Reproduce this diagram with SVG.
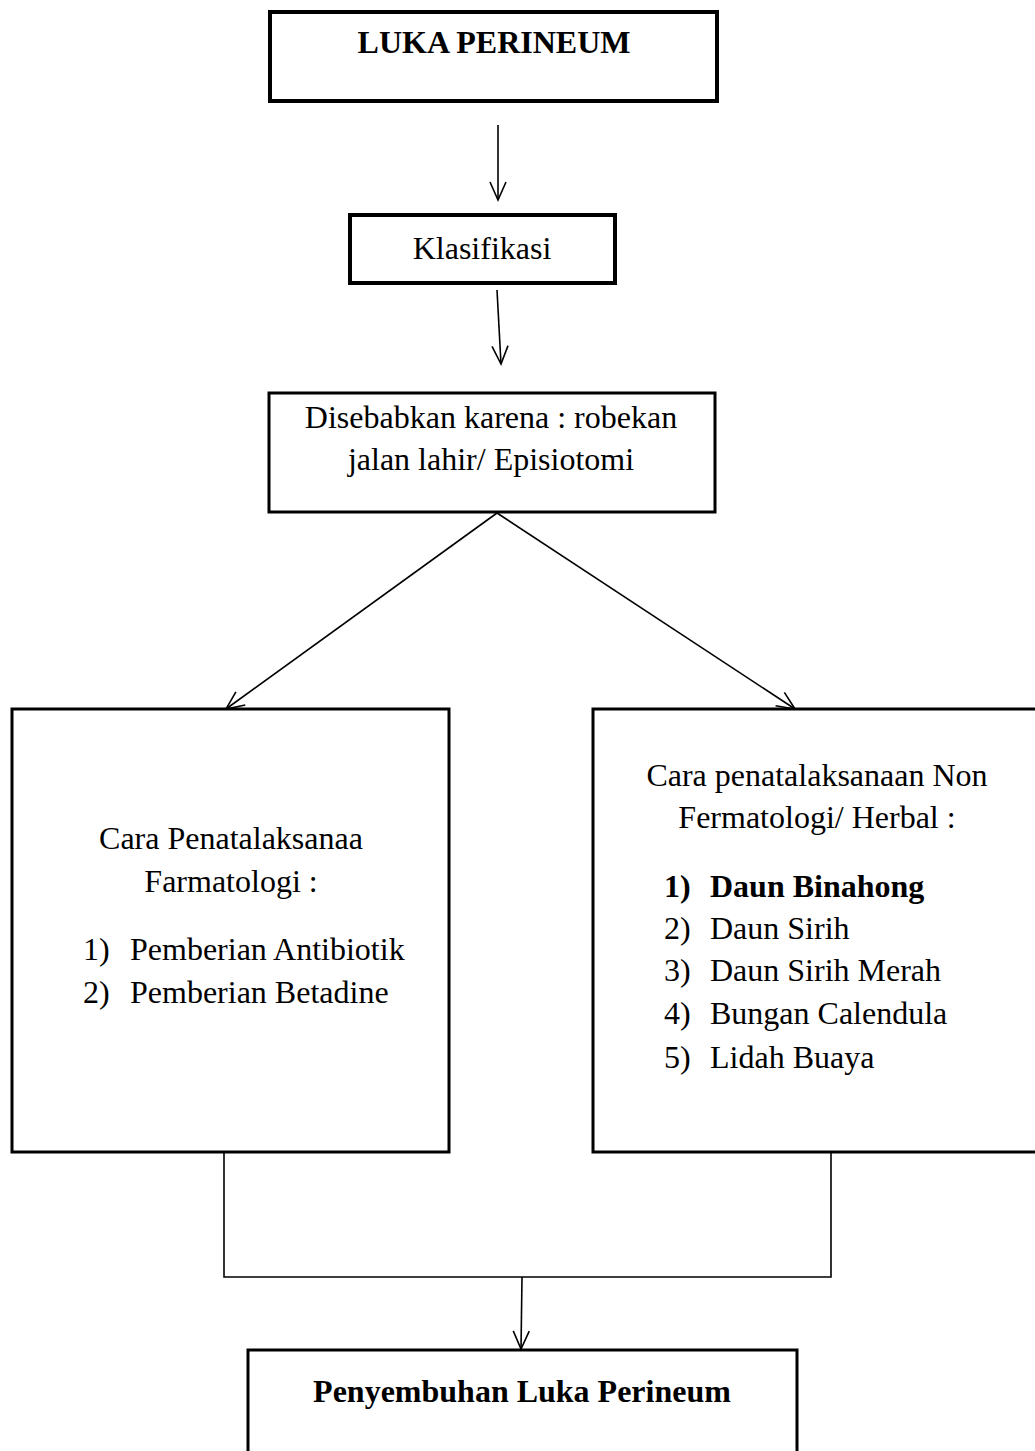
<svg xmlns="http://www.w3.org/2000/svg" width="1035" height="1451" viewBox="0 0 1035 1451">
  <style>
    .box { fill: #ffffff; stroke: #000000; }
    .thick { stroke-width: 4; }
    .mid { stroke-width: 3; }
    .t { font-family: "Liberation Serif", "Times New Roman", serif; font-size: 32px; fill: #000000; }
    .b { font-weight: bold; }
    .c { text-anchor: middle; }
    .conn { fill: none; stroke: #000000; stroke-width: 1.6; }
  </style>
  <defs>
    <marker id="arr" markerUnits="userSpaceOnUse" markerWidth="22" markerHeight="20" viewBox="0 0 22 20" refX="19" refY="10" orient="auto">
      <path d="M1,2 L19,10 L1,18" fill="none" stroke="#000000" stroke-width="1.6"/>
    </marker>
  </defs>
  <rect x="0" y="0" width="1035" height="1451" fill="#ffffff"/>

  <g id="connectors">
    <line class="conn" x1="498" y1="125" x2="498" y2="200" marker-end="url(#arr)"/>
    <line class="conn" x1="497" y1="290" x2="501" y2="364" marker-end="url(#arr)"/>
    <line class="conn" x1="497" y1="513" x2="226" y2="709" marker-end="url(#arr)"/>
    <line class="conn" x1="497" y1="513" x2="795" y2="709" marker-end="url(#arr)"/>
    <polyline class="conn" points="224,1147 224,1277 831,1277 831,1147"/>
    <line class="conn" x1="522" y1="1277" x2="521" y2="1349" marker-end="url(#arr)"/>
  </g>

  <g id="node-luka">
    <rect class="box thick" x="270" y="12" width="447" height="89"/>
    <text class="t b c" x="494" y="53">LUKA PERINEUM</text>
  </g>

  <g id="node-klasifikasi">
    <rect class="box thick" x="350" y="215" width="265" height="68"/>
    <text class="t c" x="482" y="259">Klasifikasi</text>
  </g>

  <g id="node-disebabkan">
    <rect class="box mid" x="269" y="393" width="446" height="119"/>
    <text class="t c" x="491" y="428">Disebabkan karena : robekan</text>
    <text class="t c" x="491" y="470">jalan lahir/ Episiotomi</text>
  </g>

  <g id="node-farmatologi">
    <rect class="box mid" x="12" y="709" width="437" height="443"/>
    <text class="t c" x="231" y="849">Cara Penatalaksanaa</text>
    <text class="t c" x="231" y="892">Farmatologi :</text>
    <text class="t" x="83" y="960">1)</text>
    <text class="t" x="130" y="960">Pemberian Antibiotik</text>
    <text class="t" x="83" y="1003">2)</text>
    <text class="t" x="130" y="1003">Pemberian Betadine</text>
  </g>

  <g id="node-herbal">
    <rect class="box mid" x="593" y="709" width="460" height="443"/>
    <text class="t c" x="817" y="786">Cara penatalaksanaan Non</text>
    <text class="t c" x="817" y="828">Fermatologi/ Herbal :</text>
    <text class="t b" x="664" y="897">1)</text>
    <text class="t b" x="710" y="897">Daun Binahong</text>
    <text class="t" x="664" y="939">2)</text>
    <text class="t" x="710" y="939">Daun Sirih</text>
    <text class="t" x="664" y="981">3)</text>
    <text class="t" x="710" y="981">Daun Sirih Merah</text>
    <text class="t" x="664" y="1024">4)</text>
    <text class="t" x="710" y="1024">Bungan Calendula</text>
    <text class="t" x="664" y="1068">5)</text>
    <text class="t" x="710" y="1068">Lidah Buaya</text>
  </g>

  <g id="node-penyembuhan">
    <rect class="box mid" x="248" y="1350" width="549" height="120"/>
    <text class="t b c" x="522" y="1402">Penyembuhan Luka Perineum</text>
  </g>
</svg>
